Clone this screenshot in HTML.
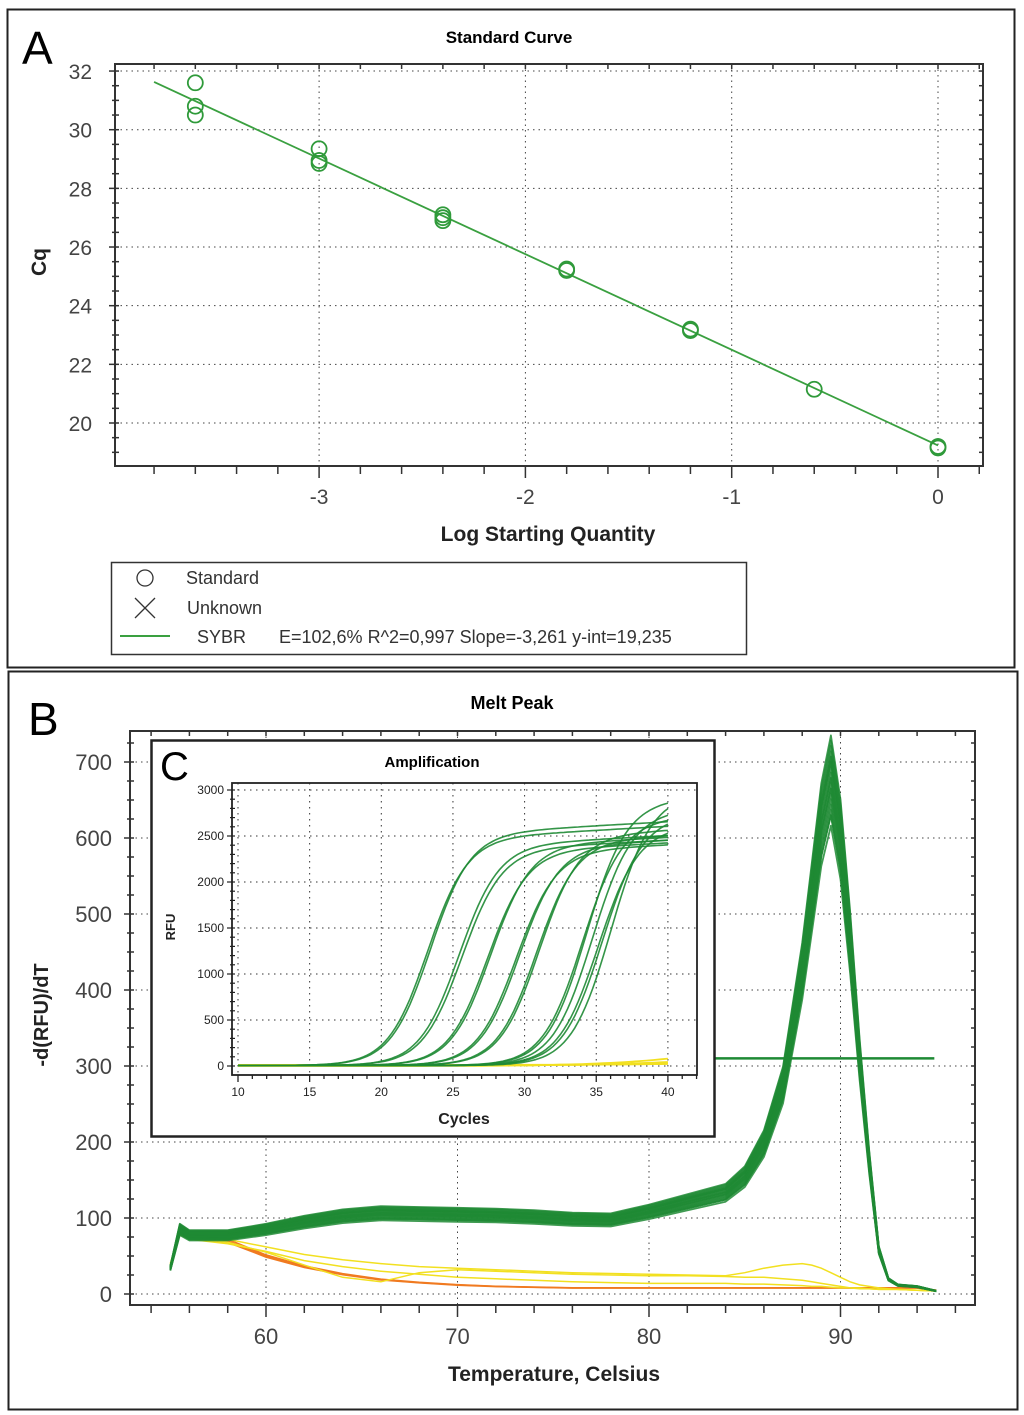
<!DOCTYPE html>
<html><head><meta charset="utf-8"><style>
body{margin:0;background:#fff;}
svg{display:block;font-family:"Liberation Sans",sans-serif;}
</style></head><body>
<svg id="fig" width="1024" height="1415" viewBox="0 0 1024 1415" xmlns="http://www.w3.org/2000/svg">
<rect x="0" y="0" width="1024" height="1415" fill="#fff"/>
<rect x="7.5" y="9.5" width="1007" height="658" fill="none" stroke="#222" stroke-width="2"/>
<rect x="8.5" y="671.5" width="1009" height="738" fill="none" stroke="#222" stroke-width="2"/>
<text x="22" y="64" font-size="46">A</text>
<text x="28" y="735" font-size="46">B</text>
<text x="509" y="43" font-size="17" font-weight="bold" text-anchor="middle">Standard Curve</text>
<text x="512" y="709" font-size="18" font-weight="bold" text-anchor="middle">Melt Peak</text>
<text x="548" y="541" font-size="21" font-weight="bold" text-anchor="middle" fill="#222">Log Starting Quantity</text>
<text transform="translate(46,262) rotate(-90)" font-size="21" font-weight="bold" text-anchor="middle" fill="#222">Cq</text>
<text x="554" y="1381" font-size="21" font-weight="bold" text-anchor="middle" fill="#222">Temperature, Celsius</text>
<text transform="translate(48,1015) rotate(-90)" font-size="20" font-weight="bold" text-anchor="middle" fill="#222">-d(RFU)/dT</text>
<g id="gA"></g>
<g id="gB"></g>
<g id="gC"></g>
<g>
<rect x="111.5" y="562.5" width="635" height="92" fill="#fff" stroke="#333" stroke-width="1.5"/>
<circle cx="145" cy="578" r="8" fill="none" stroke="#333" stroke-width="1.3"/>
<text x="186" y="584" font-size="18" fill="#333">Standard</text>
<path d="M135 598 L155 618 M155 598 L135 618" stroke="#333" stroke-width="1.3"/>
<text x="187" y="614" font-size="18" fill="#333">Unknown</text>
<line x1="120" y1="636" x2="170" y2="636" stroke="#3aa040" stroke-width="2"/>
<text x="197" y="643" font-size="18" fill="#333">SYBR</text>
<text x="279" y="643" font-size="18" fill="#333">E=102,6% R^2=0,997 Slope=-3,261 y-int=19,235</text>
</g>
</svg>
<script>
// ---------- Panel A data ----------
const stdLogQ = [-3.6,-3.6,-3.6,-3,-3,-3,-2.4,-2.4,-2.4,-1.8,-1.8,-1.2,-1.2,-0.6,0,0];
const stdCq = [31.6,30.8,30.5,29.35,28.95,28.85,27.1,26.9,27.0,25.2,25.25,23.2,23.15,21.15,19.2,19.15];
const fitSlope = -3.261;
const fitIntercept = 19.235;
const fitRange = [-3.8, 0];
const aXTicks = [-3,-2,-1,0];
const aYTicks = [20,22,24,26,28,30,32];
// ---------- Panel B data ----------
const meltT = [55,55.5,56,58,60,62,64,66,68,70,72,74,76,78,80,82,84,85,86,87,88,88.5,89,89.5,90,90.5,91,91.5,92,92.5,93,94,95];
const meltGreen = [35,88,80,80,88,98,106,110,109,108,107,105,102,101,112,125,138,160,205,285,440,540,640,700,620,480,320,180,60,20,12,10,4];
const meltScale = [0.88,0.9,0.91,0.92,0.93,0.94,0.95,0.96,0.97,0.98,0.99,1.0,1.0,1.01,1.02,1.03,1.04,1.05,0.97,0.9,1.01,0.95];
const meltYellowA = [38,80,76,72,62,52,45,40,36,34,32,30,28,27,26,25,24,28,34,38,40,38,34,28,22,16,12,10,8,7,6,5,4];
const meltYellowB = [40,82,74,68,55,38,22,16,28,32,30,28,26,25,24,24,23,22,22,20,18,16,14,12,10,8,8,7,6,6,6,5,4];
const meltYellowC = [36,78,72,66,56,44,36,30,26,22,20,18,16,15,14,14,14,13,13,12,11,10,10,9,8,8,7,7,6,6,6,5,4];
const meltOrange = [35,84,76,70,50,36,26,19,15,12,10,9,8,8,8,8,8,8,8,8,8,8,8,8,8,8,8,8,8,8,8,8,5];
const meltThreshold = 310;
const bXTicks = [60,70,80,90];
const bYTicks = [0,100,200,300,400,500,600,700];
// ---------- Panel C data ----------
const ampMid = [23.2,23.4,25.4,25.6,27.4,27.6,29.4,29.6,30.8,31.0,34.0,34.3,34.7,35.1,35.4,36.0];
const ampPlateau = [2600,2650,2500,2450,2420,2480,2400,2450,2500,2560,2700,2900,2780,2600,2720,2950];
const ampYellowEnd = [80,40,20,10];
const cXTicks = [10,15,20,25,30,35,40];
const cYTicks = [0,500,1000,1500,2000,2500,3000];

const NS="http://www.w3.org/2000/svg";
function mk(parent,tag,attrs){const e=document.createElementNS(NS,tag);for(const k in attrs)e.setAttribute(k,attrs[k]);parent.appendChild(e);return e;}

// ===== Panel A =====
(function(){
const g=document.getElementById('gA');
const L=115,R=983,T=64,B=466;
const ax=v=>938+v*206.3, ay=v=>423-(v-20)*29.33;
for(const t of aXTicks){const l=mk(g,'line',{x1:ax(t),y1:T,x2:ax(t),y2:B,stroke:'#444','stroke-dasharray':'1.5 4'});}
for(const t of aYTicks){const l=mk(g,'line',{x1:L,y1:ay(t),x2:R,y2:ay(t),stroke:'#444','stroke-dasharray':'1.5 4'});}
const fr=mk(g,'rect',{x:L,y:T,width:R-L,height:B-T,fill:'none',stroke:'#333','stroke-width':2});

for(let v=-3.8;v<=0.21;v+=0.2){const x=ax(v);const big=Math.abs(v-Math.round(v))<0.01;mk(g,'line',{x1:x,y1:B,x2:x,y2:B+(big?12:8),stroke:'#333','stroke-width':1.5});mk(g,'line',{x1:x,y1:T,x2:x,y2:T+5,stroke:'#333','stroke-width':1.5});}
for(let v=19;v<=32.01;v+=0.5){const y=ay(v);mk(g,'line',{x1:L-(v%2===0?6:3),y1:y,x2:L+4,y2:y,stroke:'#333','stroke-width':1.5});mk(g,'line',{x1:R-4,y1:y,x2:R,y2:y,stroke:'#333','stroke-width':1.5});}
for(const t of aXTicks){const e=mk(g,'text',{x:ax(t),y:504,'font-size':21,'text-anchor':'middle',fill:'#444'});e.textContent=t;}
for(const t of aYTicks){const e=mk(g,'text',{x:92,y:ay(t)+8,'font-size':21,'text-anchor':'end',fill:'#444'});e.textContent=t;}
const fl=mk(g,'line',{x1:ax(fitRange[0]),y1:ay(fitIntercept+fitSlope*fitRange[0]),x2:ax(fitRange[1]),y2:ay(fitIntercept+fitSlope*fitRange[1]),stroke:'#3aa040','stroke-width':1.8});

stdLogQ.forEach((q,i)=>{const c=mk(g,'circle',{cx:ax(q),cy:ay(stdCq[i]),r:7.5,fill:'none',stroke:'#2f9a3a','stroke-width':1.8});});
})();

// ===== Panel B =====
(function(){
const g=document.getElementById('gB');
const L=130,R=975,T=731,B=1305;
const bx=v=>266+(v-60)*19.15, by=v=>1294-v*0.76;
for(const t of bXTicks){const l=mk(g,'line',{x1:bx(t),y1:T,x2:bx(t),y2:B,stroke:'#444','stroke-dasharray':'1.5 4'});}
for(const t of bYTicks){const l=mk(g,'line',{x1:L,y1:by(t),x2:R,y2:by(t),stroke:'#444','stroke-dasharray':'1.5 4'});}
const fr=mk(g,'rect',{x:L,y:T,width:R-L,height:B-T,fill:'none',stroke:'#333','stroke-width':2});

for(let v=54;v<=97;v+=2){const x=bx(v);mk(g,'line',{x1:x,y1:B,x2:x,y2:B+(v%10===0?12:8),stroke:'#333','stroke-width':1.5});mk(g,'line',{x1:x,y1:T,x2:x,y2:T+5,stroke:'#333','stroke-width':1.5});}
for(let v=0;v<=750;v+=25){const y=by(v);if(y<T)continue;mk(g,'line',{x1:L-(v%100===0?6:3),y1:y,x2:L+4,y2:y,stroke:'#333','stroke-width':1.5});mk(g,'line',{x1:R-4,y1:y,x2:R,y2:y,stroke:'#333','stroke-width':1.5});}
for(const t of bXTicks){const e=mk(g,'text',{x:bx(t),y:1344,'font-size':22,'text-anchor':'middle',fill:'#444'});e.textContent=t;}
for(const t of bYTicks){const e=mk(g,'text',{x:112,y:by(t)+8,'font-size':22,'text-anchor':'end',fill:'#444'});e.textContent=t;}
function path(vals,scale){return meltT.map((t,i)=>(i?'L':'M')+bx(t).toFixed(1)+' '+by(vals[i]*scale).toFixed(1)).join(' ');}
const th=mk(g,'line',{x1:bx(55),y1:by(meltThreshold),x2:bx(94.9),y2:by(meltThreshold),stroke:'#1e8a34','stroke-width':2.5});

for(const s of [1,0.97,1.03]){const p=mk(g,'path',{d:path(meltOrange,s),fill:'none',stroke:'#f07a20','stroke-width':1.5});}
for(const arr of [meltYellowA,meltYellowB,meltYellowC]){const p=mk(g,'path',{d:path(arr,1),fill:'none',stroke:'#f2e020','stroke-width':1.5});}
for(const s of meltScale){const p=mk(g,'path',{d:path(meltGreen,s),fill:'none',stroke:'#1e8a34','stroke-width':1.8,'stroke-opacity':0.85,'stroke-linejoin':'round'});}
})();

// ===== Panel C =====
(function(){
const g=document.getElementById('gC');
const bx=mk(g,'rect',{x:151.5,y:740.5,width:563,height:396,fill:'#fff',stroke:'#222','stroke-width':2.5});

const t1=mk(g,'text',{x:160,y:780,'font-size':40});t1.textContent='C';
const t2=mk(g,'text',{x:432,y:767,'font-size':15,'font-weight':'bold','text-anchor':'middle'});t2.textContent='Amplification';
const t3=mk(g,'text',{x:464,y:1124,'font-size':16,'font-weight':'bold','text-anchor':'middle',fill:'#222'});t3.textContent='Cycles';
const t4=mk(g,'text',{transform:'translate(175,927) rotate(-90)','font-size':13,'font-weight':'bold','text-anchor':'middle',fill:'#222'});t4.textContent='RFU';
const L=232,R=697,T=783,B=1075;
const cx=v=>238+(v-10)*14.33, cy=v=>1066-v*0.092;
for(const t of cXTicks){const l=mk(g,'line',{x1:cx(t),y1:T,x2:cx(t),y2:B,stroke:'#333','stroke-dasharray':'1.5 4.5'});}
for(const t of cYTicks){const l=mk(g,'line',{x1:L,y1:cy(t),x2:R,y2:cy(t),stroke:'#333','stroke-dasharray':'1.5 4.5'});}
const fr=mk(g,'rect',{x:L,y:T,width:R-L,height:B-T,fill:'none',stroke:'#222','stroke-width':1.8});

for(let v=10;v<=42;v+=1){const x=cx(v);mk(g,'line',{x1:x,y1:B,x2:x,y2:B+(v%5===0?7:4),stroke:'#222','stroke-width':1.3});}
for(let v=0;v<=3000;v+=100){const y=cy(v);mk(g,'line',{x1:L-(v%500===0?5:2),y1:y,x2:L+3,y2:y,stroke:'#222','stroke-width':1.2});}
for(const t of cXTicks){const e=mk(g,'text',{x:cx(t),y:1096,'font-size':12,'text-anchor':'middle',fill:'#222'});e.textContent=t;}
for(const t of cYTicks){const e=mk(g,'text',{x:224,y:cy(t)+4,'font-size':12,'text-anchor':'end',fill:'#222'});e.textContent=t;}
ampYellowEnd.forEach((e,i)=>{let d='';for(let c=10;c<=40;c+=0.5){const v=e*Math.pow((c-10)/30,6)+i*4;d+=(c===10?'M':'L')+cx(c).toFixed(1)+' '+cy(v).toFixed(1)+' ';}const p=mk(g,'path',{d:d,fill:'none',stroke:'#f2e020','stroke-width':1.8});});
ampMid.forEach((m,i)=>{const P=ampPlateau[i];let d='';for(let c=10;c<=40;c+=0.25){const v=P*(1/(1+Math.exp(-0.72*(c-m))))*(0.9+0.1*(c-10)/30)+5;d+=(c===10?'M':'L')+cx(c).toFixed(1)+' '+cy(v).toFixed(1)+' ';}const p=mk(g,'path',{d:d,fill:'none',stroke:'#1e8a34','stroke-width':1.6,'stroke-opacity':0.9});});
})();
</script>
</body></html>
